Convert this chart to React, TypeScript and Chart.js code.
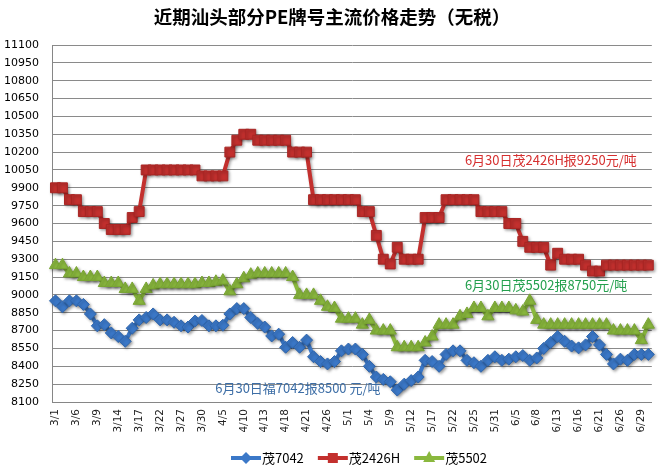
import React, { useEffect, useRef } from "react";
import { Chart, registerables } from "chart.js";

Chart.register(...registerables);

// ---- data ----
const dates = [
  "3/1", "3/4", "3/5", "3/6", "3/7", "3/8", "3/9", "3/12", "3/13", "3/14",
  "3/15", "3/16", "3/17", "3/20", "3/21", "3/22", "3/23", "3/26", "3/27", "3/28",
  "3/29", "3/30", "4/2", "4/3", "4/5", "4/8", "4/9", "4/10", "4/11", "4/12",
  "4/13", "4/16", "4/17", "4/18", "4/19", "4/20", "4/21", "4/24", "4/25", "4/26",
  "4/27", "4/28", "5/1", "5/2", "5/3", "5/4", "5/7", "5/8", "5/9", "5/10",
  "5/11", "5/12", "5/15", "5/16", "5/17", "5/18", "5/21", "5/22", "5/23", "5/24",
  "5/25", "5/28", "5/29", "5/31", "6/1", "6/4", "6/5", "6/6", "6/7", "6/8",
  "6/11", "6/12", "6/13", "6/14", "6/15", "6/16", "6/19", "6/20", "6/21", "6/22",
  "6/25", "6/26", "6/27", "6/28", "6/29", "6/30",
];

const mao7042 = [
  8950, 8900, 8950, 8950, 8920, 8840, 8740, 8750, 8680, 8650,
  8610, 8720, 8790, 8810, 8840, 8790, 8790, 8770, 8740, 8730,
  8780, 8785, 8740, 8740, 8745, 8840, 8885, 8885, 8810, 8760,
  8730, 8655, 8670, 8560, 8600, 8560, 8620, 8480, 8440, 8420,
  8440, 8530, 8545, 8545, 8500, 8400, 8310, 8290, 8270, 8200,
  8250, 8280, 8310, 8450, 8440, 8400, 8500, 8530, 8530, 8450,
  8430, 8400, 8450, 8480, 8450, 8460, 8480, 8490, 8450, 8470,
  8550, 8600, 8650, 8610, 8570, 8555, 8580, 8650, 8580, 8500,
  8420, 8460, 8450, 8500, 8500, 8500,
];

const mao2426H = [
  9900, 9900, 9800, 9800, 9700, 9700, 9700, 9600, 9550, 9550,
  9550, 9650, 9700, 10050, 10050, 10050, 10050, 10050, 10050, 10050,
  10050, 10000, 10000, 10000, 10000, 10200, 10300, 10350, 10350, 10300,
  10300, 10300, 10300, 10300, 10200, 10200, 10200, 9800, 9800, 9800,
  9800, 9800, 9800, 9800, 9700, 9700, 9500, 9300, 9260, 9400,
  9300, 9300, 9300, 9650, 9650, 9650, 9800, 9800, 9800, 9800,
  9800, 9700, 9700, 9700, 9700, 9600, 9600, 9450, 9400, 9400,
  9400, 9250, 9350, 9300, 9300, 9300, 9250, 9200, 9200, 9250,
  9250, 9250, 9250, 9250, 9250, 9250,
];

const mao5502 = [
  9250, 9250, 9180, 9180, 9150, 9150, 9150, 9100, 9100, 9100,
  9050, 9050, 8950, 9050, 9080, 9090, 9090, 9090, 9090, 9090,
  9090, 9100, 9100, 9110, 9120, 9030, 9090, 9140, 9170, 9180,
  9180, 9180, 9180, 9180, 9150, 9000, 9000, 9000, 8950, 8900,
  8890, 8800, 8800, 8800, 8750, 8790, 8700, 8700, 8700, 8560,
  8560, 8560, 8560, 8600, 8650, 8750, 8750, 8750, 8820, 8840,
  8890, 8890, 8820, 8890, 8890, 8890, 8870, 8860, 8950, 8790,
  8750, 8750, 8750, 8750, 8750, 8750, 8750, 8750, 8750, 8750,
  8700, 8700, 8700, 8700, 8620, 8750,
];

const seriesNames = ["茂7042", "茂2426H", "茂5502"];
const yMin = 8100;
const yMax = 11100;
const yStep = 150;
const labelEvery = 3;

const titleText = "近期汕头部分PE牌号主流价格走势（无税）";
const noteRed = "6月30日茂2426H报9250元/吨";
const noteGreen = "6月30日茂5502报8750元/吨";
const noteBlue = "6月30日福7042报8500 元/吨";

const BLUE = "#3b78c8";
const RED = "#c3302e";
const GREEN = "#8ab83e";
const CJK = '"Noto Sans CJK SC", "Liberation Sans", sans-serif';
const AXISFONT = '"DejaVu Sans", Verdana, sans-serif';

export default function App() {
  const ref = useRef<HTMLCanvasElement | null>(null);

  useEffect(() => {
    const canvas = ref.current;
    if (!canvas) return;

    const shadowPlugin = {
      id: "shadowPlugin",
      beforeDatasetsDraw(chart: any) {
        const ctx = chart.ctx;
        ctx.save();
        ctx.shadowColor = "rgba(0,0,0,0.35)";
        ctx.shadowBlur = 3;
        ctx.shadowOffsetX = 1.5;
        ctx.shadowOffsetY = 1.5;
      },
      afterDatasetsDraw(chart: any) {
        chart.ctx.restore();
      },
    };

    const bgPlugin = {
      id: "bgPlugin",
      beforeDraw(chart: any) {
        const ctx = chart.ctx;
        ctx.save();
        ctx.fillStyle = "#ffffff";
        ctx.fillRect(0, 0, chart.width, chart.height);
        ctx.restore();
      },
    };

    const decorPlugin = {
      id: "decorPlugin",
      afterDraw(chart: any) {
        const ctx = chart.ctx;
        const xs = chart.scales.x;
        const ys = chart.scales.y;
        ctx.save();
        // title
        ctx.fillStyle = "#000";
        ctx.font = `bold 18.5px ${CJK}`;
        ctx.textAlign = "center";
        ctx.textBaseline = "middle";
        ctx.fillText(titleText, 332, 17);

        // notes
        ctx.font = `13px ${CJK}`;
        ctx.textAlign = "left";
        ctx.fillStyle = "#d62f2f";
        ctx.fillText(noteRed, xs.getPixelForValue(58.7), ys.getPixelForValue(10130));
        ctx.fillStyle = "#24a04e";
        ctx.fillText(noteGreen, xs.getPixelForValue(58.7), ys.getPixelForValue(9080));
        ctx.fillStyle = "#3d6ea6";
        ctx.fillText(noteBlue, xs.getPixelForValue(22.9), ys.getPixelForValue(8215));

        // legend
        const colors = [BLUE, RED, GREEN];
        const styles = ["diamond", "square", "triangle"];
        ctx.font = `13px ${CJK}`;
        const lineW = 30;
        const gap = 1;
        const spacing = 14;
        const widths = seriesNames.map((n) => ctx.measureText(n).width);
        const total = widths.reduce((a, w) => a + lineW + gap + w, 0) + spacing * (seriesNames.length - 1);
        let x = 359 - total / 2;
        const y = 458;
        seriesNames.forEach((name, i) => {
          ctx.strokeStyle = colors[i];
          ctx.lineWidth = 4;
          ctx.beginPath();
          ctx.moveTo(x, y);
          ctx.lineTo(x + lineW, y);
          ctx.stroke();
          const cx = x + lineW / 2;
          ctx.fillStyle = colors[i];
          ctx.beginPath();
          if (styles[i] === "diamond") {
            ctx.moveTo(cx, y - 6);
            ctx.lineTo(cx + 6, y);
            ctx.lineTo(cx, y + 6);
            ctx.lineTo(cx - 6, y);
          } else if (styles[i] === "square") {
            ctx.rect(cx - 5, y - 5, 10, 10);
          } else {
            ctx.moveTo(cx, y - 7);
            ctx.lineTo(cx + 6, y + 4);
            ctx.lineTo(cx - 6, y + 4);
          }
          ctx.closePath();
          ctx.fill();
          ctx.fillStyle = "#000";
          ctx.textAlign = "left";
          ctx.fillText(name, x + lineW + gap, y);
          x += lineW + gap + widths[i] + spacing;
        });
        ctx.restore();
      },
    };

    const chart = new Chart(canvas, {
      type: "line",
      data: {
        labels: dates,
        datasets: [
          {
            label: seriesNames[0],
            data: mao7042,
            borderColor: BLUE,
            backgroundColor: BLUE,
            borderWidth: 4,
            pointStyle: "rectRot",
            pointRadius: 6,
            pointBorderColor: "#2f66ad",
            pointBackgroundColor: BLUE,
            pointBorderWidth: 1,
            tension: 0,
          },
          {
            label: seriesNames[1],
            data: mao2426H,
            borderColor: RED,
            backgroundColor: RED,
            borderWidth: 4,
            pointStyle: "rect",
            pointRadius: 7,
            pointBorderColor: "#a82523",
            pointBackgroundColor: RED,
            pointBorderWidth: 1,
            tension: 0,
          },
          {
            label: seriesNames[2],
            data: mao5502,
            borderColor: GREEN,
            backgroundColor: GREEN,
            borderWidth: 4,
            pointStyle: "triangle",
            pointRadius: 7,
            pointBorderColor: "#79a533",
            pointBackgroundColor: GREEN,
            pointBorderWidth: 1,
            tension: 0,
          },
        ],
      },
      options: {
        responsive: false,
        animation: false,
        devicePixelRatio: 1,
        layout: { padding: { top: 45, right: 12, bottom: 0, left: 0 } },
        plugins: {
          legend: { display: false },
          title: { display: false },
          tooltip: { enabled: false },
        },
        scales: {
          x: {
            type: "category",
            offset: true,
            grid: { display: false, drawTicks: false },
            border: { display: true, color: "#868686", width: 1 },
            ticks: {
              autoSkip: false,
              maxRotation: 90,
              minRotation: 90,
              padding: 7,
              color: "#222",
              font: { family: AXISFONT, size: 10.5 },
              callback: (_v: any, index: number) => (index % labelEvery === 0 ? dates[index] : ""),
            },
            afterFit: (scale: any) => {
              scale.height = 71;
            },
          },
          y: {
            min: yMin,
            max: yMax,
            grid: { color: "#8a8a8a", lineWidth: 1, drawTicks: false },
            border: { display: true, color: "#868686", width: 1 },
            ticks: {
              stepSize: yStep,
              autoSkip: false,
              padding: 13,
              color: "#000",
              font: { family: AXISFONT, size: 11 },
              callback: (v: any) => String(v),
            },
            afterFit: (scale: any) => {
              scale.width = 52;
            },
          },
        },
      },
      plugins: [bgPlugin, shadowPlugin, decorPlugin],
    } as any);

    return () => {
      chart.destroy();
    };
  }, []);

  return (
    <div style={{ position: "absolute", left: 0, top: 0, width: 668, height: 473, background: "#fff" }}>
      <canvas ref={ref} width={668} height={473} style={{ display: "block", width: 668, height: 473 }} />
    </div>
  );
}
